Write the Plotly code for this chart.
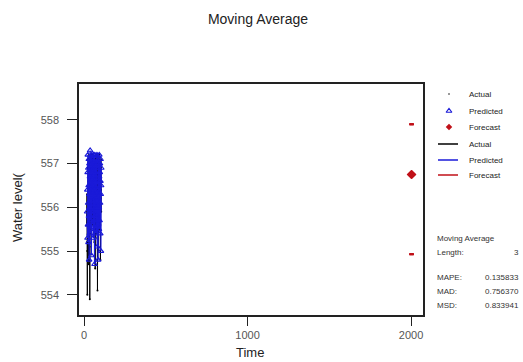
import plotly.graph_objects as go

# ---------------- data ----------------
time_actual = list(range(16, 106))
actual = [555.6, 555.2, 556.3, 555.0, 554.0, 555.8, 556.9, 555.4, 556.1, 557.1,
          555.3, 556.6, 555.9, 554.7, 556.8, 557.2, 555.5, 556.2, 555.1, 553.9,
          555.7, 556.9, 556.3, 557.0, 555.8, 556.5, 557.2, 556.0, 555.4, 556.8,
          557.1, 556.4, 555.9, 556.7, 557.0, 555.6, 556.3, 557.2, 556.5, 555.8,
          556.9, 557.1, 556.2, 555.5, 556.6, 557.0, 556.1, 555.2, 556.4, 557.1,
          556.8, 555.9, 554.6, 556.0, 556.9, 557.2, 556.3, 555.4, 556.7, 557.0,
          556.5, 555.7, 556.8, 557.2, 556.0, 555.3, 554.1, 555.6, 556.7, 557.1,
          556.2, 555.0, 556.4, 557.0, 556.6, 555.8, 556.9, 557.2, 556.1, 555.5,
          556.3, 557.0, 556.7, 555.6, 554.8, 556.2, 556.9, 557.1, 556.4, 555.9]

time_pred = list(range(19, 106))
predicted = [555.9, 556.4, 555.3, 556.8, 557.2, 555.6, 556.1, 556.9, 555.2, 556.5,
             557.1, 555.8, 554.8, 556.3, 557.0, 556.0, 555.4, 556.7, 557.3, 555.9,
             556.4, 557.1, 555.7, 556.2, 556.9, 555.5, 554.9, 556.6, 557.2, 556.0,
             555.6, 556.8, 557.1, 555.9, 556.3, 557.0, 556.5, 555.3, 556.7, 557.2,
             556.1, 555.7, 556.9, 557.0, 555.8, 554.7, 556.4, 557.2, 556.6, 555.5,
             556.0, 556.8, 557.1, 556.2, 555.4, 556.9, 557.0, 556.3, 555.8, 556.6,
             557.2, 556.0, 555.1, 556.5, 557.0, 556.4, 555.6, 554.8, 556.2, 556.9,
             557.1, 556.0, 555.5, 556.7, 557.2, 556.3, 555.7, 556.8, 557.0, 556.1,
             555.4, 556.6, 557.1, 556.3, 555.0, 556.5, 556.9]

time_fc = [2001, 2003, 2005]
forecast = [556.75, 556.75, 556.75]
upper = [557.9, 557.9, 557.9]
lower = [554.93, 554.93, 554.93]

x_ticks = [0, 1000, 2000]
y_ticks = [554, 555, 556, 557, 558]

legend_labels = ["Actual", "Predicted", "Forecast", "Actual", "Predicted", "Forecast"]
stats_labels = ["MAPE:", "MAD:", "MSD:"]
stats_values = ["0.135833", "0.756370", "0.833941"]
ma_length = "3"

BLACK = "#000000"
BLUE = "#1a1ad8"
RED = "#c01018"
FONT = "Liberation Sans, Arial, sans-serif"

fig = go.Figure()

# actual
fig.add_trace(go.Scatter(x=time_actual, y=actual, mode="lines+markers",
                         line=dict(color=BLACK, width=1),
                         marker=dict(color=BLACK, size=2), showlegend=False))
# predicted
fig.add_trace(go.Scatter(x=time_pred, y=predicted, mode="lines+markers",
                         line=dict(color=BLUE, width=1.2),
                         marker=dict(symbol="triangle-up-open", color=BLUE, size=5,
                                     line=dict(width=1.2)), showlegend=False))
# forecast limits
for arr in (upper, lower):
    fig.add_trace(go.Scatter(x=time_fc, y=arr, mode="lines+markers",
                             line=dict(color=RED, width=1),
                             marker=dict(symbol="line-ew-open", color=RED, size=3,
                                         line=dict(color=RED, width=2)),
                             showlegend=False))
# forecast
fig.add_trace(go.Scatter(x=time_fc, y=forecast, mode="lines+markers",
                         line=dict(color=RED, width=1),
                         marker=dict(symbol="diamond", color=RED, size=7),
                         showlegend=False))

# ----- legend panel on hidden pixel-mapped axes -----
rows = [94, 111, 127, 144, 160, 175]
sym_x = 449
fig.add_trace(go.Scatter(x=[sym_x], y=[rows[0]], xaxis="x2", yaxis="y2", mode="markers",
                         marker=dict(color="#777777", size=2), showlegend=False))
fig.add_trace(go.Scatter(x=[sym_x], y=[rows[1]], xaxis="x2", yaxis="y2", mode="markers",
                         marker=dict(symbol="triangle-up-open", color=BLUE, size=5,
                                     line=dict(width=1.2)), showlegend=False))
fig.add_trace(go.Scatter(x=[sym_x], y=[rows[2]], xaxis="x2", yaxis="y2", mode="markers",
                         marker=dict(symbol="diamond", color=RED, size=5), showlegend=False))
for r, c in zip(rows[3:], [BLACK, BLUE, RED]):
    fig.add_trace(go.Scatter(x=[438, 458], y=[r, r], xaxis="x2", yaxis="y2", mode="lines",
                             line=dict(color=c, width=1.5), showlegend=False))

annotations = []
for r, lab in zip(rows, legend_labels):
    annotations.append(dict(x=467, y=r, xref="x2", yref="y2", text=lab, showarrow=False,
                            xanchor="left", yanchor="middle",
                            font=dict(family=FONT, size=8, color="#222222")))

stat_font = dict(family=FONT, size=8, color="#333333")
annotations.append(dict(x=435, y=238, xref="x2", yref="y2", text="Moving Average",
                        showarrow=False, xanchor="left", yanchor="middle", font=stat_font))
annotations.append(dict(x=435, y=252, xref="x2", yref="y2", text="Length:",
                        showarrow=False, xanchor="left", yanchor="middle", font=stat_font))
annotations.append(dict(x=521, y=252, xref="x2", yref="y2", text=ma_length,
                        showarrow=False, xanchor="right", yanchor="middle", font=stat_font))
for r, lab, val in zip([277, 291, 305], stats_labels, stats_values):
    annotations.append(dict(x=435, y=r, xref="x2", yref="y2", text=lab,
                            showarrow=False, xanchor="left", yanchor="middle", font=stat_font))
    annotations.append(dict(x=521, y=r, xref="x2", yref="y2", text=val,
                            showarrow=False, xanchor="right", yanchor="middle", font=stat_font))

# axis titles
annotations.append(dict(x=(17 - 79) / 444, y=(315 - 207) / 231, xref="paper", yref="paper",
                        text="Water level(", textangle=-90, showarrow=False,
                        xanchor="center", yanchor="middle",
                        font=dict(family=FONT, size=13, color="#222222")))
annotations.append(dict(x=(250 - 79) / 444, y=(315 - 352) / 231, xref="paper", yref="paper",
                        text="Time", showarrow=False, xanchor="center", yanchor="middle",
                        font=dict(family=FONT, size=13, color="#222222")))

fig.update_layout(
    width=523, height=362,
    margin=dict(l=79, r=0, t=84, b=47),
    paper_bgcolor="white", plot_bgcolor="white",
    font=dict(family=FONT),
    title=dict(text="Moving Average", x=258 / 523, xref="container", xanchor="center",
               y=1 - 19 / 362, yref="container", yanchor="middle",
               font=dict(family=FONT, size=14, color="#222222")),
    xaxis=dict(domain=[0, 344 / 444], range=[-31, 2073], tickvals=x_ticks,
               ticktext=[str(v) for v in x_ticks],
               showline=True, mirror=True, linecolor="#222222", linewidth=1.5,
               ticks="outside", ticklen=9, tickcolor="#222222", tickwidth=1,
               showgrid=False, zeroline=False,
               tickfont=dict(family=FONT, size=11, color="#555555")),
    yaxis=dict(range=[553.54, 558.82], tickvals=y_ticks,
               ticktext=[str(v) for v in y_ticks],
               showline=True, mirror=True, linecolor="#222222", linewidth=1.5,
               ticks="outside", ticklen=10, tickcolor="#222222", tickwidth=1,
               showgrid=False, zeroline=False, ticklabelstandoff=6,
               tickfont=dict(family=FONT, size=11, color="#555555")),
    xaxis2=dict(domain=[344 / 444, 1], range=[423, 523], visible=False, anchor="y2"),
    yaxis2=dict(domain=[0, 1], range=[315, 84], visible=False, anchor="x2"),
    annotations=annotations,
)

fig.write_html("out.html", config={"displayModeBar": False},
               post_script="document.body.style.margin='0';document.body.style.overflow='hidden';")
